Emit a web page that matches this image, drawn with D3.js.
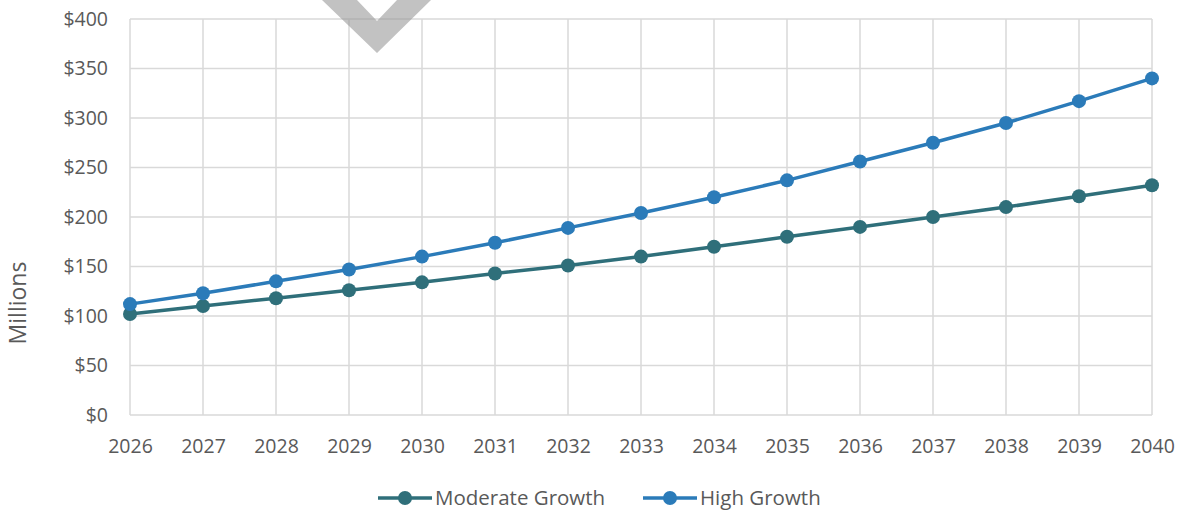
<!DOCTYPE html>
<html><head><meta charset="utf-8">
<script src="https://cdn.jsdelivr.net/npm/d3@7"></script>
<style>body{margin:0;background:#fff;}svg{display:block;font-family:"Open Sans",sans-serif;} svg text{font-family:"Open Sans",sans-serif;}</style>
</head><body><svg id="c" width="1183" height="510"></svg>
<script>
const years = [2026,2027,2028,2029,2030,2031,2032,2033,2034,2035,2036,2037,2038,2039,2040];
const moderate = [102,110,118,126,134,143,151,160,170,180,190,200,210,221,232];
const high = [112,123,135,147,160,174,189,204,220,237,256,275,295,317,340];
const yTicks = [0,50,100,150,200,250,300,350,400];
const seriesNames = ["Moderate Growth","High Growth"];
const colors = ["#2f6f7a","#2b7bb9"];

const svg = d3.select("#c");
const x = d3.scaleLinear().domain([2026,2040]).range([130,1152]);
const y = d3.scaleLinear().domain([0,400]).range([415,19]);

// gridlines
svg.append("g").selectAll("line").data(yTicks).join("line")
  .attr("x1",130).attr("x2",1152).attr("y1",d=>y(d)).attr("y2",d=>y(d))
  .attr("stroke","#d9d9d9").attr("stroke-width",1.5);
svg.append("g").selectAll("line").data(years).join("line")
  .attr("y1",19).attr("y2",415).attr("x1",d=>x(d)).attr("x2",d=>x(d))
  .attr("stroke","#d9d9d9").attr("stroke-width",1.5);

// axes labels
const yAxis = d3.axisLeft(y).tickValues(yTicks).tickFormat(d=>"$"+d).tickSize(0).tickPadding(22);
const gy = svg.append("g").attr("transform","translate(130,0)").call(yAxis).attr("font-family",null).attr("font-size",null);
gy.select(".domain").remove();
gy.selectAll("text").attr("fill","#595959").style("font-size","19.5px");
const xAxis = d3.axisBottom(x).tickValues(years).tickFormat(d3.format("d")).tickSize(0).tickPadding(24);
const gx = svg.append("g").attr("transform","translate(0,415)").call(xAxis).attr("font-family",null).attr("font-size",null);
gx.select(".domain").remove();
gx.selectAll("text").attr("fill","#595959").style("font-size","19.5px");

svg.append("text").attr("transform","translate(26,303) rotate(-90)").attr("text-anchor","middle")
  .attr("fill","#595959").style("font-size","23px").text("Millions");

// watermark chevron
svg.append("polygon").attr("points","322,0 377,53 431,0 397,0 377,21 357,0")
  .attr("fill","#9a9a9a").attr("opacity",0.6);

// lines
const data = [moderate, high];
const line = d3.line().x((d,i)=>x(years[i])).y(d=>y(d));
data.forEach((s,k)=>{
  svg.append("path").attr("d",line(s)).attr("fill","none").attr("stroke",colors[k]).attr("stroke-width",3.5);
  svg.append("g").selectAll("circle").data(s).join("circle")
    .attr("cx",(d,i)=>x(years[i])).attr("cy",d=>y(d)).attr("r",7).attr("fill",colors[k]);
});

// legend
const legX = [378,643];
seriesNames.forEach((n,k)=>{
  const g = svg.append("g").attr("transform",`translate(${legX[k]},498)`);
  g.append("line").attr("x1",0).attr("x2",54).attr("stroke",colors[k]).attr("stroke-width",3.5);
  g.append("circle").attr("cx",27).attr("r",7).attr("fill",colors[k]);
  g.append("text").attr("x",57).attr("y",7).attr("fill","#595959").style("font-size","20.5px").text(n);
});
</script></body></html>
